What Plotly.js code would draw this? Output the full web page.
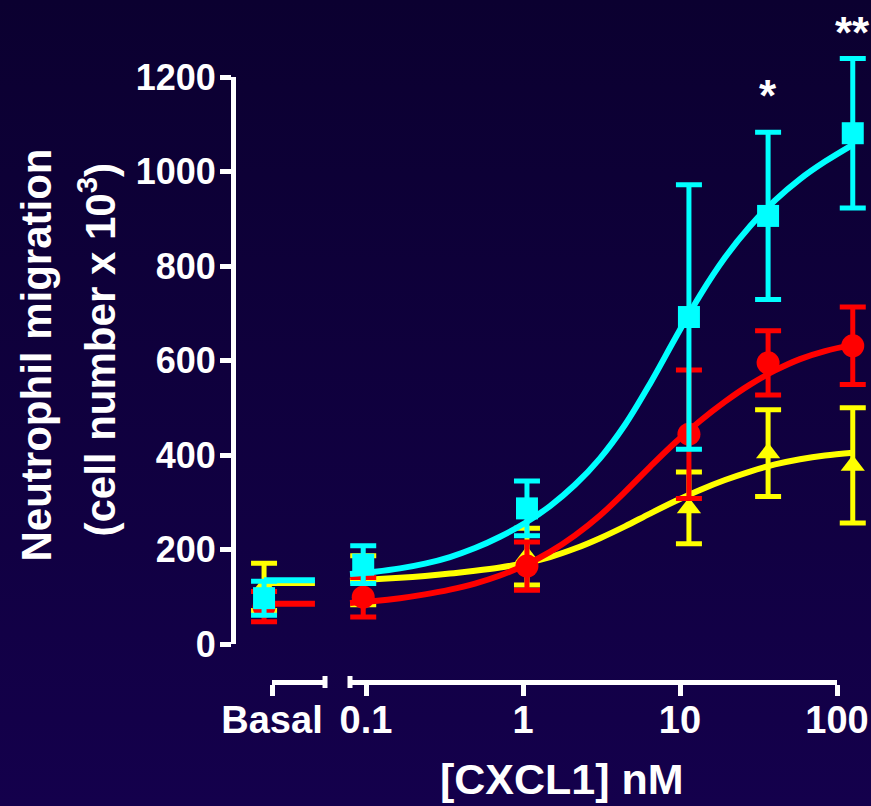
<!DOCTYPE html>
<html><head><meta charset="utf-8">
<script src="https://cdn.plot.ly/plotly-3.0.1.min.js"></script>
<style>
html,body{margin:0;padding:0;background:linear-gradient(to bottom,#0b0030 0%,#14004c 100%);overflow:hidden;}
#chart{width:871px;height:806px;}
</style>
</head><body><div id="chart"></div>
<script>
// ---------- data ----------
const doseTickVals = [0.1, 1, 10, 100];
const doseTickText = ['0.1', '1', '10', '100'];
const basalTickText = ['Basal'];
const doseX = [0.096, 1.06, 11.4, 36.4, 126];          // nM, positions of the measured points
const basalX = [-0.15];                                   // basal group position
const basalLineX = [-0.15, 0.81];                          // basal reference line extent

const cyanMean = [168, 287, 692, 906, 1081];
const cyanErr  = [40, 58, 280, 177, 158];
const redMean  = [99, 165, 444, 595, 631];
const redErr   = [42, 51, 136, 68, 82];
const yellowMean = [135, 185, 288, 404, 378];
const yellowErr  = [52, 60, 76, 92, 122];

const cyanBasal = [97],  cyanBasalErr = [36],  cyanBasalLine = [135, 135];
const redBasal = [79],   redBasalErr = [32],   redBasalLine = [85, 85];
const yellowBasal = [121], yellowBasalErr = [50], yellowBasalLine = [129, 129];

// fitted curves
const curveX = [0.0791, 0.1141, 0.1646, 0.2376, 0.3428, 0.4946, 0.7137, 1.030, 1.486, 2.144, 3.094,
                4.464, 6.442, 9.293, 13.41, 19.35, 27.92, 40.28, 58.13, 83.87, 126.5];
const cyanCurve   = [148, 153, 160, 170, 184, 203, 227, 256, 292, 337, 393, 464, 551, 646, 738, 818, 884, 939, 984, 1021, 1057];
const redCurve    = [87, 91, 97, 105, 115, 128, 145, 167, 195, 230, 272, 322, 375, 426, 472, 513, 549, 579, 603, 620, 633];
const yellowCurve = [134, 137, 140, 144, 149, 155, 162, 171, 184, 202, 224, 249, 276, 302, 326, 347, 365, 380, 391, 399, 405];

const starText = ['*', '**'];
const starIndex = [3, 4];
const starY = [1160, 1295];

// ---------- geometry (pixels) ----------
const W = 871, H = 806;
const yAxisX = 233, yTopPx = 77, yZeroPx = 644, yMax = 1200;
const pxPerUnit = (yZeroPx - yTopPx) / yMax;
const xAxisYpx = 682;
const mainStartPx = 350, tick01Px = 366, tick100Px = 837;
const decadePx = (tick100Px - tick01Px) / 3;
const basalStartPx = 272, basalEndPx = 325, basalUnitPx = basalEndPx - basalStartPx;

const logAt = px => -1 + (px - tick01Px) / decadePx;
const valAt = py => (yZeroPx - py) / pxPerUnit;

const WHITE = '#ffffff';
const CYAN = '#00ffff', RED = '#ff0000', YELLOW = '#ffff00';
const FONT = 'Arial, "Liberation Sans", Helvetica, sans-serif';

function curve(y, color) {
  return {x: curveX, y: y, xaxis: 'x', yaxis: 'y', mode: 'lines',
    line: {color: color, width: 6, shape: 'spline', smoothing: 1},
    hoverinfo: 'skip', showlegend: false};
}
function pts(y, err, color, symbol, size, xs, xa) {
  return {x: xs, y: y, xaxis: xa, yaxis: 'y', mode: 'markers',
    marker: {color: color, symbol: symbol, size: size, line: {width: 0}},
    error_y: {type: 'data', array: err, visible: true, color: color, thickness: 5, width: 13},
    cliponaxis: false, hoverinfo: 'skip', showlegend: false};
}
function basalLine(y, color) {
  return {x: basalLineX, y: y, xaxis: 'x4', yaxis: 'y', mode: 'lines',
    line: {color: color, width: 6}, hoverinfo: 'skip', showlegend: false};
}

const traces = [
  curve(yellowCurve, YELLOW),
  pts(yellowMean, yellowErr, YELLOW, 'triangle-up', 21, doseX, 'x'),
  curve(redCurve, RED),
  pts(redMean, redErr, RED, 'circle', 23, doseX, 'x'),
  curve(cyanCurve, CYAN),
  pts(cyanMean, cyanErr, CYAN, 'square', 22, doseX, 'x'),
  basalLine(yellowBasalLine, YELLOW),
  pts(yellowBasal, yellowBasalErr, YELLOW, 'triangle-up', 21, basalX, 'x4'),
  basalLine(redBasalLine, RED),
  pts(redBasal, redBasalErr, RED, 'circle', 23, basalX, 'x4'),
  basalLine(cyanBasalLine, CYAN),
  pts(cyanBasal, cyanBasalErr, CYAN, 'square', 22, basalX, 'x4'),
  // invisible helpers so that the display axes are drawn
  {x: doseX, y: cyanMean, xaxis: 'x2', yaxis: 'y2', mode: 'markers', marker: {opacity: 0, size: 1},
   hoverinfo: 'skip', showlegend: false},
  {x: basalX, y: cyanBasal, xaxis: 'x3', yaxis: 'y2', mode: 'markers', marker: {opacity: 0, size: 1},
   hoverinfo: 'skip', showlegend: false}
];

const axisCommon = {
  showline: true, linecolor: WHITE, linewidth: 5,
  ticks: 'outside', ticklen: 11, tickwidth: 5, tickcolor: WHITE,
  showgrid: false, zeroline: false, fixedrange: true
};

const layout = {
  width: W, height: H,
  margin: {l: 0, r: 0, t: 0, b: 0, pad: 0},
  paper_bgcolor: 'rgba(0,0,0,0)', plot_bgcolor: 'rgba(0,0,0,0)',
  showlegend: false,
  font: {family: FONT, color: WHITE, weight: 'bold'},
  // data subplot covering the whole picture (hidden axes)
  xaxis: {type: 'log', domain: [0, 1], range: [logAt(0), logAt(W)], visible: false, fixedrange: true},
  yaxis: {domain: [0, 1], range: [valAt(H), valAt(0)], visible: false, fixedrange: true},
  xaxis4: {overlaying: 'x', range: [(0 - basalStartPx) / basalUnitPx, (W - basalStartPx) / basalUnitPx],
           visible: false, fixedrange: true},
  // display axes
  yaxis2: Object.assign({}, axisCommon, {
    domain: [(H - yZeroPx) / H, (H - yTopPx) / H], range: [0, yMax],
    anchor: 'free', position: yAxisX / W, tickmode: 'array',
    tickvals: [0, 200, 400, 600, 800, 1000, 1200], ticklabelstandoff: -3,
    tickfont: {family: FONT, size: 36, color: WHITE, weight: 'bold'}
  }),
  xaxis2: Object.assign({}, axisCommon, {
    type: 'log', domain: [mainStartPx / W, tick100Px / W],
    range: [logAt(mainStartPx), 2], anchor: 'free', position: (H - xAxisYpx) / H,
    tickmode: 'array', tickvals: doseTickVals, ticktext: doseTickText, ticklabelstandoff: -9,
    tickfont: {family: FONT, size: 38, color: WHITE, weight: 'bold'}
  }),
  xaxis3: Object.assign({}, axisCommon, {
    domain: [basalStartPx / W, basalEndPx / W], range: [0, 1],
    anchor: 'free', position: (H - xAxisYpx) / H,
    tickmode: 'array', tickvals: [0], ticktext: basalTickText, ticklabelstandoff: -9,
    tickfont: {family: FONT, size: 38, color: WHITE, weight: 'bold'}
  }),
  shapes: [
    // axis-break end caps
    {type: 'line', xref: 'paper', yref: 'paper', x0: basalEndPx / W, x1: basalEndPx / W,
     y0: (H - xAxisYpx + 6) / H, y1: (H - xAxisYpx - 6) / H, line: {color: WHITE, width: 5}},
    {type: 'line', xref: 'paper', yref: 'paper', x0: mainStartPx / W, x1: mainStartPx / W,
     y0: (H - xAxisYpx + 6) / H, y1: (H - xAxisYpx - 6) / H, line: {color: WHITE, width: 5}}
  ],
  annotations: [
    {text: 'Neutrophil migration', xref: 'paper', yref: 'paper', x: 35.5 / W, y: (H - 355) / H,
     textangle: -90, showarrow: false, xanchor: 'center', yanchor: 'middle',
     font: {family: FONT, size: 42, color: WHITE, weight: 'bold'}},
    {text: '(cell number x 10<sup>3</sup>)', xref: 'paper', yref: 'paper', x: 97.5 / W, y: (H - 350) / H,
     textangle: -90, showarrow: false, xanchor: 'center', yanchor: 'middle',
     font: {family: FONT, size: 42, color: WHITE, weight: 'bold'}},
    {text: '[CXCL1] nM', xref: 'paper', yref: 'paper', x: 562 / W, y: (H - 779) / H,
     showarrow: false, xanchor: 'center', yanchor: 'middle',
     font: {family: FONT, size: 43, color: WHITE, weight: 'bold'}}
  ].concat(starText.map((t, i) => ({
     text: t, xref: 'x', yref: 'y', x: Math.log10(doseX[starIndex[i]]), y: starY[i],
     showarrow: false, xanchor: 'center', yanchor: 'middle',
     font: {family: FONT, size: 44, color: WHITE, weight: 'bold'}})))
};

Plotly.newPlot('chart', traces, layout, {staticPlot: true, displayModeBar: false});
</script>
</body></html>
